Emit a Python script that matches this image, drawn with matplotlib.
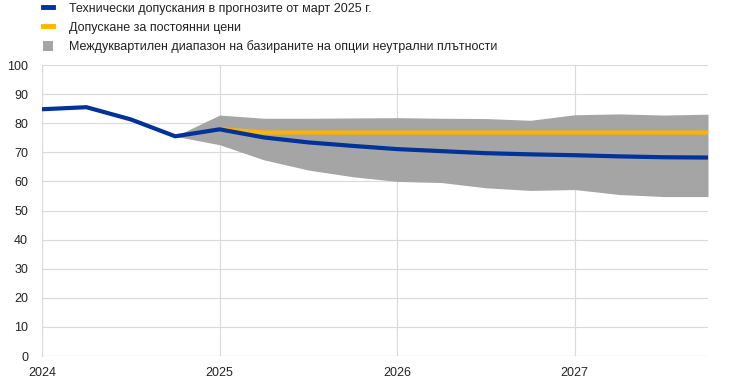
import matplotlib
matplotlib.use("Agg")
import matplotlib.pyplot as plt
from matplotlib.lines import Line2D
from matplotlib.patches import Patch

## Data (quarterly)
quarters = [2024.0, 2024.25, 2024.5, 2024.75, 2025.0, 2025.25, 2025.5, 2025.75,
            2026.0, 2026.25, 2026.5, 2026.75, 2027.0, 2027.25, 2027.5, 2027.75]
technical = [84.8, 85.5, 81.3, 75.5, 77.9, 75.1, 73.4, 72.2,
             71.1, 70.4, 69.7, 69.3, 69.0, 68.6, 68.3, 68.2]

fc_quarters = quarters[4:]
constant_prices = [78.0, 76.8, 76.8, 76.8, 76.8, 76.8, 76.8, 76.8,
                   76.8, 76.8, 76.8, 76.8]

band_quarters = quarters[3:]
band_low = [75.5, 72.6, 67.4, 63.9, 61.6, 60.0, 59.6, 57.8, 56.9, 57.2, 55.5, 54.8, 54.8]
band_high = [75.5, 82.8, 81.7, 81.7, 81.8, 81.9, 81.7, 81.6, 81.0, 82.9, 83.2, 82.8, 83.1]

years = [2024, 2025, 2026, 2027]
yticks = list(range(0, 101, 10))

labels = [
    "Технически допускания в прогнозите от март 2025 г.",
    "Допускане за постоянни цени",
    "Междуквартилен диапазон на базираните на опции неутрални плътности",
]

## Style
ecbBlue = "#003299"
ecbYellow = "#ffb400"
bandGrey = "#a5a5a5"
gridGrey = "#d9d9d9"
textColor = "#222222"

plt.rcParams["font.family"] = ["Liberation Sans", "DejaVu Sans"]
plt.rcParams["font.size"] = 9


def main():
    fig = plt.figure(figsize=(7.34, 3.86), dpi=100)
    ax = fig.add_axes([0.0572, 0.0777, 0.9074, 0.7539])

    ax.fill_between(band_quarters, band_low, band_high, color=bandGrey,
                    linewidth=0, zorder=2)
    ax.plot(fc_quarters, constant_prices, color=ecbYellow, linewidth=3,
            zorder=3, solid_capstyle="butt")
    ax.plot(quarters, technical, color=ecbBlue, linewidth=3, zorder=4,
            solid_capstyle="butt")

    ax.set_xlim(2024, 2027.75)
    ax.set_ylim(0, 100)
    ax.set_xticks(years)
    ax.set_xticklabels([str(y) for y in years])
    ax.set_yticks(yticks)

    ax.grid(True, color=gridGrey, linewidth=0.8, zorder=0)
    ax.set_axisbelow(True)
    for side in ["top", "right", "bottom"]:
        ax.spines[side].set_visible(False)
    ax.spines["left"].set_color(gridGrey)
    ax.spines["left"].set_linewidth(0.8)
    ax.axhline(0, color=gridGrey, linewidth=0.8, zorder=1)

    ax.tick_params(axis="both", length=0, labelsize=9, colors=textColor)
    ax.tick_params(axis="x", pad=8)
    ax.tick_params(axis="y", pad=10)

    handles = [
        Line2D([0], [0], color=ecbBlue, linewidth=3.5),
        Line2D([0], [0], color=ecbYellow, linewidth=3.5),
        Patch(facecolor=bandGrey, edgecolor="none"),
    ]
    fig.legend(handles, labels, loc="upper left", bbox_to_anchor=(0.052, 1.006),
               frameon=False, fontsize=9, handlelength=0.8, handleheight=0.9,
               handletextpad=1.25, labelspacing=0.5, borderaxespad=0,
               labelcolor=textColor)

    fig.savefig("out.png", dpi=100)


main()
